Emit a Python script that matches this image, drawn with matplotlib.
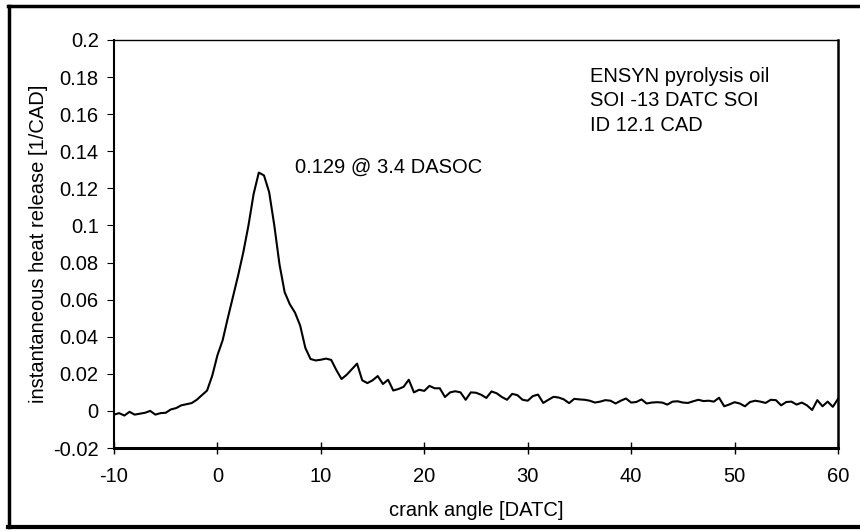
import numpy as np
import matplotlib
matplotlib.use("Agg")
import matplotlib.pyplot as plt
from matplotlib.lines import Line2D

plt.rcParams['font.family'] = ['Liberation Sans', 'DejaVu Sans']

crank_angle = np.arange(-10, 60.01, 0.5)
heat_release = [
    -0.0020, -0.0012, -0.0025, -0.0005, -0.0020, -0.0015, -0.0010, 0.0000, -0.0020, -0.0012,
    -0.0010, 0.0008, 0.0015, 0.0030, 0.0036, 0.0042, 0.0060, 0.0085, 0.0110, 0.0190,
    0.0300, 0.0380, 0.0500, 0.0615, 0.0730, 0.0855, 0.1000, 0.1170, 0.1285, 0.1270,
    0.1180, 0.1000, 0.0790, 0.0640, 0.0575, 0.0530, 0.0460, 0.0340, 0.0280, 0.0272,
    0.0276, 0.0282, 0.0275, 0.0220, 0.0172, 0.0195, 0.0225, 0.0255, 0.0165, 0.0150,
    0.0165, 0.0188, 0.0145, 0.0168, 0.0110, 0.0118, 0.0130, 0.0168, 0.0100, 0.0114,
    0.0108, 0.0135, 0.0122, 0.0122, 0.0075, 0.0100, 0.0106, 0.0100, 0.0060, 0.0100,
    0.0098, 0.0087, 0.0070, 0.0105, 0.0095, 0.0075, 0.0060, 0.0092, 0.0085, 0.0060,
    0.0055, 0.0080, 0.0088, 0.0043, 0.0060, 0.0076, 0.0072, 0.0062, 0.0042, 0.0065,
    0.0062, 0.0060, 0.0055, 0.0045, 0.0050, 0.0058, 0.0055, 0.0040, 0.0055, 0.0067,
    0.0045, 0.0048, 0.0062, 0.0040, 0.0045, 0.0047, 0.0045, 0.0034, 0.0050, 0.0052,
    0.0045, 0.0043, 0.0052, 0.0060, 0.0053, 0.0055, 0.0050, 0.0071, 0.0025, 0.0035,
    0.0047, 0.0040, 0.0025, 0.0048, 0.0055, 0.0050, 0.0043, 0.0060, 0.0058, 0.0030,
    0.0048, 0.0050, 0.0034, 0.0045, 0.0030, 0.0005, 0.0058, 0.0025, 0.0050, 0.0022,
    0.0065,
]

x_ticks = [-10, 0, 10, 20, 30, 40, 50, 60]
y_ticks = [-0.02, 0, 0.02, 0.04, 0.06, 0.08, 0.1, 0.12, 0.14, 0.16, 0.18, 0.2]
y_tick_labels = ["-0.02", "0", "0.02", "0.04", "0.06", "0.08", "0.1", "0.12",
                 "0.14", "0.16", "0.18", "0.2"]
info_lines = ["ENSYN pyrolysis oil", "SOI -13 DATC SOI", "ID 12.1 CAD"]
peak_note = "0.129 @ 3.4 DASOC"

fig = plt.figure(figsize=(8.6, 5.31), dpi=100)
ax = fig.add_axes([114 / 860, 1 - 448 / 531, (838 - 114) / 860, (448 - 40) / 531])

ax.plot(crank_angle, heat_release, color='black', linewidth=1.5)

ax.set_xlim(-10, 60)
ax.set_ylim(-0.02, 0.2)
ax.set_xticks(x_ticks)
ax.set_xticklabels([str(v) for v in x_ticks])
ax.set_yticks(y_ticks)
ax.set_yticklabels(y_tick_labels)

fs = 14.5
ax.tick_params(axis='x', direction='inout', length=9, width=1, labelsize=fs, pad=9)
ax.tick_params(axis='y', direction='out', length=5, width=0.8, labelsize=fs, pad=6)
for side, lw in [('left', 1.5), ('bottom', 2.2), ('right', 1.8), ('top', 1.0)]:
    ax.spines[side].set_linewidth(lw)
    ax.spines[side].set_color('black')

ax.set_xlabel("crank angle [DATC]", fontsize=fs, labelpad=11)
ax.set_ylabel("instantaneous heat release [1/CAD]", fontsize=fs, labelpad=4)

for i, line in enumerate(info_lines):
    ax.text(36.0, 0.1805 - i * 0.0133, line, fontsize=fs, ha='left', va='center')
ax.text(7.5, 0.1315, peak_note, fontsize=fs, ha='left', va='center')

# outer frame of the scanned figure
fig.add_artist(Line2D([9 / 860, 9 / 860], [4 / 531, 1 - 6 / 531], transform=fig.transFigure,
                      color='black', linewidth=2.5))
fig.add_artist(Line2D([8 / 860, 1.0], [1 - 6 / 531, 1 - 6 / 531], transform=fig.transFigure,
                      color='black', linewidth=2.5))
fig.add_artist(Line2D([8 / 860, 1.0], [4 / 531, 4 / 531], transform=fig.transFigure,
                      color='black', linewidth=3))

fig.savefig("out.png", dpi=100)
